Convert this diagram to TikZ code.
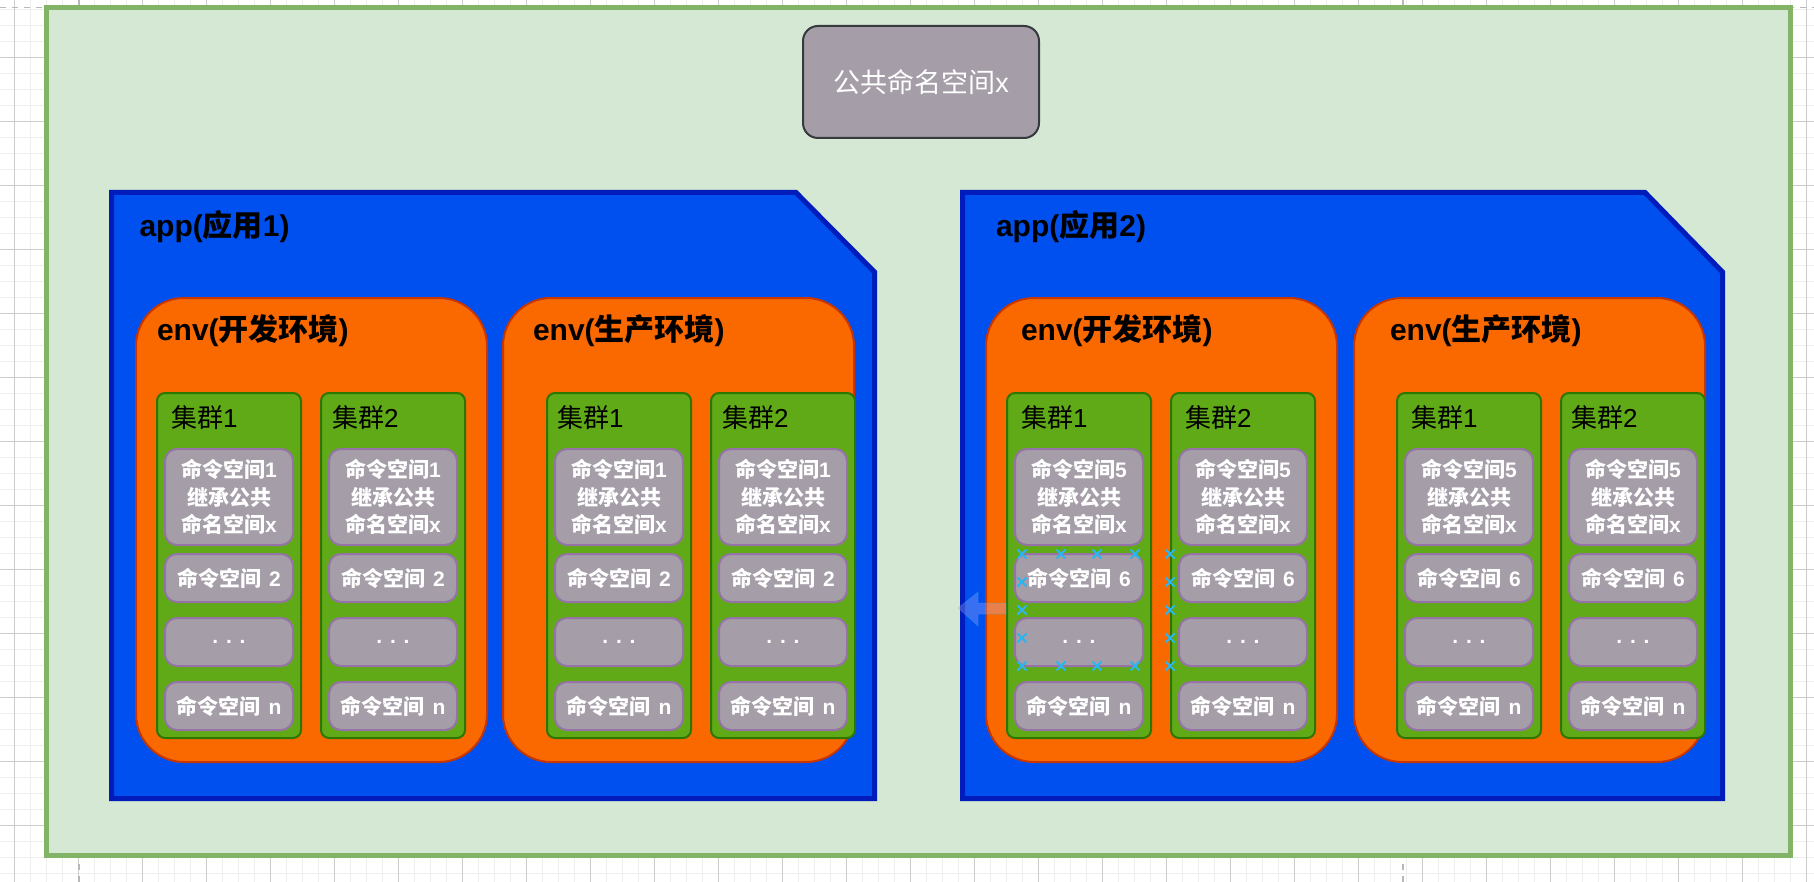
\documentclass[tikz,border=0pt]{standalone}
\usepackage{fontspec}
\setmainfont{Liberation Sans}
\newfontfamily\cjk{Noto Sans CJK SC}
\newcommand{\zh}[1]{{\cjk #1}}
\newcommand{\wsp}{\hspace{0.38em}}
\definecolor{outerfill}{HTML}{D5E8D4}
\definecolor{outerstroke}{HTML}{82B366}
\definecolor{appfill}{HTML}{0050EF}
\definecolor{appstroke}{HTML}{001DBC}
\definecolor{envfill}{HTML}{FA6800}
\definecolor{envstroke}{HTML}{C73500}
\definecolor{clfill}{HTML}{60A917}
\definecolor{clstroke}{HTML}{2D7600}
\definecolor{nsfill}{HTML}{A59EA8}
\definecolor{nsstroke}{HTML}{9673A6}
\definecolor{topstroke}{HTML}{36393D}
\definecolor{gridminor}{HTML}{EEEEEE}
\definecolor{gridmajor}{HTML}{CCCCCC}
\definecolor{pagebreak}{HTML}{B8B8B8}
\definecolor{hoverblue}{HTML}{29B6F2}
\definecolor{hoverarrow}{RGB}{190,184,247}
\tikzset{
 every node/.style={inner sep=0pt, outer sep=0pt},
 outerbox/.style={draw=outerstroke, fill=outerfill, line width=2.5pt, minimum width=872pt, minimum height=423.75pt},
 topbox/.style={draw=topstroke, fill=nsfill, line width=1pt, rounded corners=7.5pt, minimum width=118pt, minimum height=56pt, text=white, font=\fontsize{13.5}{16}\selectfont},
 appbox/.style={draw=appstroke, fill=appfill, line width=2.5pt},
 applabel/.style={font=\bfseries\fontsize{15}{18}\selectfont, text=black},
 envbox/.style={draw=envstroke, fill=envfill, line width=1pt, rounded corners=24pt, minimum width=175.5pt, minimum height=232pt},
 clusterbox/.style={draw=clstroke, fill=clfill, line width=1pt, rounded corners=4pt, minimum width=72pt, minimum height=172.5pt},
 clusterlabel/.style={font=\fontsize{13}{16}\selectfont, text=black},
 nsbox/.style={draw=nsstroke, fill=nsfill, line width=1pt, rounded corners=6pt, minimum width=64pt, text=white, align=center, font=\bfseries\fontsize{10.5}{13.75}\selectfont},
 gridminorline/.style={draw=gridminor, line width=0.5pt},
 gridmajorline/.style={draw=gridmajor, line width=0.5pt},
 pagebreakline/.style={draw=pagebreak, line width=0.75pt, dash pattern=on 3pt off 3pt},
 hovermark/.style={draw=hoverblue, line width=1pt},
 hoverarrowshape/.style={fill=hoverarrow, fill opacity=0.3, draw=hoverblue, draw opacity=0.2, line width=0.5pt},
}
% #1 name, #2 left x, #3 cluster no, #4 first ns no, #5 second ns label, #6 label offset
\newcommand{\mkcluster}[6]{%
 \node[clusterbox, anchor=north west] (#1) at (#2,393) {};
 \node[clusterlabel, anchor=west] (#1-lbl) at ({#2+#6},418) {\zh{集群}#3};
 \node[nsbox, minimum height=48pt, anchor=north west] (#1-a) at ({#2+8},449) {\zh{命令空间}#4\\\zh{继承公共}\\\zh{命名空间}x};
 \node[nsbox, minimum height=24pt, anchor=north west] (#1-b) at ({#2+8},554) {\zh{命令空间}\wsp#5};
 \node[nsbox, minimum height=24pt, anchor=north west] (#1-c) at ({#2+8},618) {. . .};
 \node[nsbox, minimum height=24pt, anchor=north west] (#1-d) at ({#2+8},682) {\zh{命令空间}\wsp n};
}
\begin{document}
\begin{tikzpicture}[x=0.5pt,y=-0.5pt]
\useasboundingbox (0,0) rectangle (1814,882);
\fill[white] (0,0) rectangle (1814,882);
% grid
\foreach \k in {0,...,113} {\draw[gridminorline] ({14.5+16*\k},0) -- ({14.5+16*\k},882);}
\foreach \k in {0,...,55} {\draw[gridminorline] (0,{9.3+16*\k}) -- (1814,{9.3+16*\k});}
\foreach \k in {0,...,28} {\draw[gridmajorline] ({14.5+64*\k},0) -- ({14.5+64*\k},882);}
\foreach \k in {1,...,14} {\draw[gridmajorline] (0,{-6.7+64*\k}) -- (1814,{-6.7+64*\k});}
% page breaks
\draw[pagebreakline] (0,7.5) -- (1814,7.5);
\draw[pagebreakline] (79,0) -- (79,882);
\draw[pagebreakline] (1403,0) -- (1403,882);
% outer container
\node[outerbox, anchor=north west] (canvas) at (46,7.5) {};
% shared namespace
\node[topbox] (shared) at (921,82) {\zh{公共命名空间}x};
% apps
\draw[appbox] (111.5,192.5) -- (796,192.5) -- (874.5,272) -- (874.5,798.5) -- (111.5,798.5) -- cycle;
\node[applabel, anchor=west] (app1) at (139.5,227) {app(\zh{应用}1)};
\draw[appbox] (962.5,192.5) -- (1645,192.5) -- (1722.5,272) -- (1722.5,798.5) -- (962.5,798.5) -- cycle;
\node[applabel, anchor=west] (app2) at (996,227) {app(\zh{应用}2)};
% envs
\node[envbox, anchor=north west] (e11) at (136,298) {};
\node[applabel, anchor=west] (e11-lbl) at (157,331) {env(\zh{开发环境})};
\node[envbox, anchor=north west] (e12) at (503,298) {};
\node[applabel, anchor=west] (e12-lbl) at (533,331) {env(\zh{生产环境})};
\node[envbox, anchor=north west] (e21) at (986,298) {};
\node[applabel, anchor=west] (e21-lbl) at (1021,331) {env(\zh{开发环境})};
\node[envbox, anchor=north west] (e22) at (1354,298) {};
\node[applabel, anchor=west] (e22-lbl) at (1390,331) {env(\zh{生产环境})};
% clusters
\mkcluster{c111}{157}{1}{1}{2}{14}
\mkcluster{c112}{321}{2}{1}{2}{11}
\mkcluster{c121}{547}{1}{1}{2}{10}
\mkcluster{c122}{711}{2}{1}{2}{11}
\mkcluster{c211}{1007}{1}{5}{6}{14}
\mkcluster{c212}{1171}{2}{5}{6}{14}
\mkcluster{c221}{1397}{1}{5}{6}{14}
\mkcluster{c222}{1561}{2}{5}{6}{10}
% hover arrow
\draw[hoverarrowshape] (958,608) -- (978,592) -- (978,603) -- (1006,603) -- (1006,614) -- (978,614) -- (978,626) -- cycle;
% hover marks
\foreach \p in {(1022,554),(1061,554),(1097,554),(1135,554),(1170,554),
                (1022,582),(1170,582),(1022,610),(1170,610),(1022,638),(1170,638),
                (1022,666),(1061,666),(1097,666),(1135,666),(1170,666)} {
  \draw[hovermark] \p ++(-4.5,-4.5) -- ++(9,9) ++(-9,0) -- ++(9,-9);
}
\end{tikzpicture}
\end{document}
